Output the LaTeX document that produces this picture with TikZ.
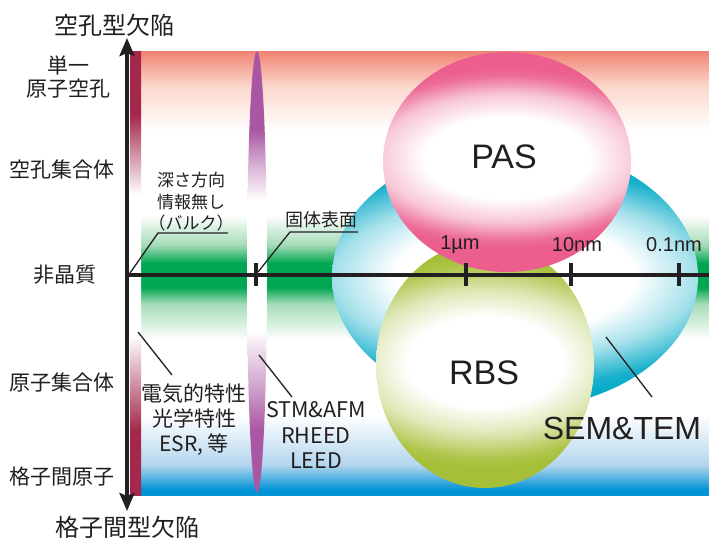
\documentclass[tikz,border=0pt]{standalone}
\usepackage{fontspec}
\setmainfont{Liberation Sans}
\newfontfamily\jp{Noto Sans CJK JP}
\usetikzlibrary{arrows.meta}
\definecolor{txt}{HTML}{231F20}
\definecolor{bgsalmon}{HTML}{F08272}
\definecolor{bglsalmon}{HTML}{FBD8CC}
\definecolor{bggreen}{HTML}{00A651}
\definecolor{bglgreen}{HTML}{A6DCB8}
\definecolor{bgblue}{HTML}{0093D6}
\definecolor{bglblue}{HTML}{B4D6EE}
\definecolor{dred}{HTML}{A4284C}
\definecolor{purp}{HTML}{A956A3}
\definecolor{paspink}{HTML}{EB5E8E}
\definecolor{semcyan}{HTML}{00A8C6}
\definecolor{rbslime}{HTML}{A6BF38}
\pgfdeclareverticalshading{bgshade}{100bp}{color(0bp)=(bgblue); color(25bp)=(bgblue); color(25.6bp)=(bgblue); color(28.4bp)=(bglblue); color(34bp)=(white); color(42.5bp)=(white); color(46.5bp)=(bglgreen); color(48.4bp)=(bggreen); color(51.1bp)=(bggreen); color(53.2bp)=(bglgreen); color(56.5bp)=(white); color(66bp)=(white); color(71bp)=(bglsalmon); color(75bp)=(bgsalmon); color(100bp)=(bgsalmon)}
\pgfdeclareverticalshading{redbar}{100bp}{color(0bp)=(dred); color(25bp)=(dred); color(32.3bp)=(dred); color(43bp)=(white); color(58.8bp)=(white); color(67.8bp)=(dred); color(75bp)=(dred); color(100bp)=(dred)}
\pgfdeclareverticalshading{lensshade}{100bp}{color(0bp)=(purp); color(25bp)=(purp); color(32.1bp)=(purp); color(37bp)=(purp!55); color(43.4bp)=(white); color(58.1bp)=(white); color(62bp)=(purp!45); color(66.1bp)=(purp); color(75bp)=(purp); color(100bp)=(purp)}
\pgfdeclareradialshading{passhade}{\pgfpoint{0bp}{0bp}}{color(0bp)=(white); color(9bp)=(white); color(14bp)=(paspink!35); color(18bp)=(paspink!90); color(20bp)=(paspink); color(50bp)=(paspink)}
\pgfdeclareradialshading{rbsshade}{\pgfpoint{0bp}{0bp}}{color(0bp)=(white); color(9bp)=(white); color(14bp)=(rbslime!35); color(19bp)=(rbslime!90); color(21bp)=(rbslime); color(50bp)=(rbslime)}
\pgfdeclareradialshading{cyanshade}{\pgfpoint{0bp}{0bp}}{color(0bp)=(white); color(10bp)=(white); color(15bp)=(semcyan!35); color(20bp)=(semcyan!90); color(23bp)=(semcyan); color(50bp)=(semcyan)}
\tikzset{
  lbl/.style={text=txt, inner sep=0pt, align=center},
  jpTitle/.style={lbl, font=\jp\fontsize{24}{28}\selectfont},
  jpSide/.style={lbl, font=\jp\fontsize{21}{23}\selectfont},
  jpBulk/.style={lbl, font=\jp\fontsize{17}{21.5}\selectfont},
  jpSurf/.style={lbl, font=\jp\fontsize{18}{21}\selectfont},
  jpProp/.style={lbl, font=\jp\fontsize{21}{25}\selectfont},
  stmlbl/.style={lbl, font=\jp\fontsize{21.5}{25.5}\selectfont},
  ticklbl/.style={lbl, font=\fontsize{20}{24}\selectfont},
  biglbl/.style={lbl, font=\fontsize{34}{40}\selectfont},
  semlbl/.style={lbl, font=\fontsize{32}{38}\selectfont},
  leader/.style={draw=txt, line width=1.3pt},
  axisline/.style={draw=txt, line width=4pt},
  tickline/.style={draw=txt, line width=3.5pt},
  bothtips/.style={arrows={Stealth[length=18pt, width=15pt, inset=3pt]-Stealth[length=18pt, width=15pt, inset=3pt]}}
}
\begin{document}
\begin{tikzpicture}[x=1pt, y=-1pt]
\useasboundingbox[fill=white] (0,0) rectangle (709,539);
% background band
\shade[shading=bgshade] (130,51) rectangle (709,495);
% red bar
\shade[shading=redbar] (130,51) rectangle (141,495);
% lens
\shade[shading=lensshade] (257,272) ellipse [x radius=10, y radius=221];
% SEM&TEM ellipse
\begin{scope}
  \clip (515,277) ellipse [x radius=183, y radius=132];
  \shade[shading=cyanshade] (515,277) ellipse [x radius=300, y radius=135];
\end{scope}
% RBS ellipse
\begin{scope}
  \clip (485,365) ellipse [x radius=109, y radius=123];
  \shade[shading=rbsshade] (485,362) ellipse [x radius=215, y radius=126];
\end{scope}
% PAS ellipse
\begin{scope}
  \clip (507,162) ellipse [x radius=124, y radius=110];
  \shade[shading=passhade] (507,158) ellipse [x radius=230, y radius=114];
\end{scope}
% axes
\coordinate (vtop) at (127,38);
\coordinate (vbot) at (127,511);
\coordinate (horig) at (125,275);
\coordinate (hend) at (709,275);
\draw[axisline] (horig) -- (hend);
\draw[axisline, bothtips] (vtop) -- (vbot);
% ticks
\foreach \x/\n in {256/a,466/b,571/c,679/d}{
  \coordinate (tk\n t) at (\x,263);
  \coordinate (tk\n b) at (\x,286);
  \draw[tickline] (tk\n t) -- (tk\n b);
}
% tick labels
\node[ticklbl] (lum) at (460,245) {1µm};
\node[ticklbl] (lnm) at (577,245) {10nm};
\node[ticklbl] (lpnm) at (674,245) {0.1nm};
% axis titles
\node[jpTitle] (ttop) at (114,25) {空孔型欠陥};
\node[jpTitle] (tbot) at (127,527) {格子間型欠陥};
% side labels
\node[jpSide] (s1) at (68,77) {単一\\原子空孔};
\node[jpSide] (s2) at (62,170) {空孔集合体};
\node[jpSide] (s3) at (65,275) {非晶質};
\node[jpSide] (s4) at (62,383) {原子集合体};
\node[jpSide] (s5) at (62,477) {格子間原子};
% inner labels
\node[jpBulk] (bulk) at (191,202) {深さ方向\\情報無し\\（バルク）};
\node[jpSurf] (surf) at (321,220) {固体表面};
\node[jpProp] (prop) at (194,420) {電気的特性\\光学特性\\ESR, 等};
\node[stmlbl] (stm) at (316,435) {STM\&AFM\\RHEED\\LEED};
\node[biglbl] (pas) at (504,157) {PAS};
\node[biglbl] (rbs) at (484,373) {RBS};
\node[semlbl] (sem) at (622,428) {SEM\&TEM};
% leaders
\coordinate (bk0) at (130,273);
\coordinate (bk1) at (158,233);
\coordinate (bk2) at (228,233);
\draw[leader] (bk0) -- (bk1) -- (bk2);
\coordinate (sf0) at (258,272);
\coordinate (sf1) at (290,232);
\coordinate (sf2) at (358,232);
\draw[leader] (sf0) -- (sf1) -- (sf2);
\coordinate (pr0) at (138,332);
\coordinate (pr1) at (172,375);
\draw[leader] (pr0) -- (pr1);
\coordinate (st0) at (259,355);
\coordinate (st1) at (292,397);
\draw[leader] (st0) -- (st1);
\coordinate (se0) at (606,337);
\coordinate (se1) at (652,397);
\draw[leader] (se0) -- (se1);
\end{tikzpicture}
\end{document}
